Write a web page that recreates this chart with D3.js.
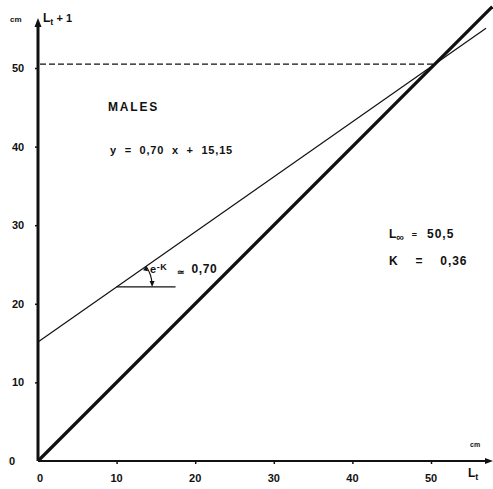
<!DOCTYPE html>
<html>
<head>
<meta charset="utf-8">
<script src="https://cdn.jsdelivr.net/npm/d3@7"></script>
<style>
  body { margin: 0; background: #fff; }
  svg { display: block; }
  text { font-family: "Liberation Sans", Arial, sans-serif; font-weight: bold; fill: #111; }
</style>
</head>
<body>
<svg id="chart" width="493" height="489"></svg>
<script>
// Ford–Walford plot: length at age t+1 against length at age t (males)
const xTicks = [0, 10, 20, 30, 40, 50];
const yTicks = [0, 10, 20, 30, 40, 50];
const slope = 0.70;       // e^-K
const intercept = 15.15;
const lInf = 50.5;        // L∞ = intercept / (1 - slope)
const kValue = 0.36;
const diagonalEnd = 57.8; // extent of the Lt+1 = Lt line
const regressionEnd = 57.0;
const angleRefEnd = 17.5; // horizontal reference for the slope angle

const svg = d3.select("#chart");
const x = d3.scaleLinear().domain([0, 50]).range([38, 431]);
const y = d3.scaleLinear().domain([0, 50]).range([461, 68]);
const ink = "#111";
const comma = v => String(v).replace(".", ",");

// Axes
const xAxis = d3.axisBottom(x).tickValues(xTicks.slice(1)).tickSize(3).tickFormat("");
svg.append("g").attr("transform", `translate(0,${y(0)})`).call(xAxis)
  .call(g => g.select(".domain").remove())
  .selectAll("line").attr("stroke", ink).attr("stroke-width", 1.5);
const yAxis = d3.axisLeft(y).tickValues(yTicks.slice(1)).tickSize(3).tickFormat("");
svg.append("g").attr("transform", `translate(${x(0)},0)`).call(yAxis)
  .call(g => g.select(".domain").remove())
  .selectAll("line").attr("stroke", ink).attr("stroke-width", 1.5);

svg.append("line").attr("x1", x(0)).attr("y1", y(0)).attr("x2", 490).attr("y2", y(0))
  .attr("stroke", ink).attr("stroke-width", 2);
svg.append("path").attr("d", `M493,${y(0)} L485,${y(0) - 3} L485,${y(0) + 3} Z`).attr("fill", ink);
svg.append("line").attr("x1", x(0)).attr("y1", y(0)).attr("x2", x(0)).attr("y2", 24)
  .attr("stroke", ink).attr("stroke-width", 3);
svg.append("path").attr("d", `M${x(0)},18 L${x(0) - 3.5},27 L${x(0) + 3.5},27 Z`).attr("fill", ink);

// Tick labels
svg.selectAll(".xl").data(xTicks).join("text")
  .attr("x", d => x(d) + (d === 0 ? 2 : 0)).attr("y", 482)
  .attr("text-anchor", "middle").attr("font-size", 11).text(d => d);
svg.selectAll(".yl").data(yTicks).join("text")
  .attr("x", d => d === 0 ? 12 : 18).attr("y", d => y(d) + 4)
  .attr("text-anchor", "middle").attr("font-size", 11).text(d => d);

// Axis titles
svg.append("text").attr("x", 10).attr("y", 22).attr("font-size", 8).text("cm");
const lt1 = svg.append("text").attr("x", 43).attr("y", 22).attr("font-size", 12);
lt1.append("tspan").text("L");
lt1.append("tspan").attr("dy", 3).attr("font-size", 9).text("t");
lt1.append("tspan").attr("dy", -3).attr("font-size", 11).text(" + 1");
svg.append("text").attr("x", 470).attr("y", 447).attr("font-size", 7).text("cm");
const lt = svg.append("text").attr("x", 468).attr("y", 477).attr("font-size", 12);
lt.append("tspan").text("L");
lt.append("tspan").attr("dy", 3).attr("font-size", 9).text("t");

// Asymptote level (dashed)
svg.append("line").attr("x1", x(0) + 2).attr("y1", y(lInf)).attr("x2", x(lInf)).attr("y2", y(lInf))
  .attr("stroke", ink).attr("stroke-width", 1.2).attr("stroke-dasharray", "6,3");

// Lt+1 = Lt diagonal
svg.append("line").attr("x1", x(0)).attr("y1", y(0)).attr("x2", x(diagonalEnd)).attr("y2", y(diagonalEnd))
  .attr("stroke", ink).attr("stroke-width", 3.2);

// Regression line
svg.append("line").attr("x1", x(0)).attr("y1", y(intercept))
  .attr("x2", x(regressionEnd)).attr("y2", y(slope * regressionEnd + intercept))
  .attr("stroke", ink).attr("stroke-width", 1.2);

// Slope angle marker
const ax0 = 10;
svg.append("line").attr("x1", x(ax0)).attr("y1", y(slope * ax0 + intercept))
  .attr("x2", x(angleRefEnd)).attr("y2", y(slope * ax0 + intercept))
  .attr("stroke", ink).attr("stroke-width", 1.3);
const cx = x(ax0), cy = y(slope * ax0 + intercept), r = 36;
const ang = Math.atan(slope);
svg.append("path")
  .attr("d", `M${cx + r * Math.cos(ang)},${cy - r * Math.sin(ang)} A${r},${r} 0 0 1 ${cx + r - 0.5},${cy - 3}`)
  .attr("fill", "none").attr("stroke", ink).attr("stroke-width", 1.2);
svg.append("path").attr("d", `M${cx + r - 0.5},${cy} L${cx + r - 3},${cy - 6} L${cx + r + 2},${cy - 6} Z`).attr("fill", ink);
svg.append("path").attr("d", `M${cx + r * Math.cos(ang)},${cy - r * Math.sin(ang)} l-3,4 l5,1 Z`).attr("fill", ink);

const ek = svg.append("text").attr("x", 150).attr("y", 273).attr("font-size", 11)
  .attr("xml:space", "preserve").attr("letter-spacing", 0.6);
ek.append("tspan").text("e");
ek.append("tspan").attr("dy", -3).attr("font-size", 9).text("-K");
ek.append("tspan").attr("dy", 5).attr("font-size", 9).text("   \u2243  ");
ek.append("tspan").attr("dy", -2).attr("font-size", 12).text(comma(slope.toFixed(2)));

// Annotations
svg.append("text").attr("x", 108).attr("y", 111).attr("font-size", 12)
  .attr("letter-spacing", 1.8).text("MALES");
svg.append("text").attr("x", 110).attr("y", 154).attr("font-size", 11)
  .attr("letter-spacing", 0.8).attr("xml:space", "preserve")
  .text(`y  =  ${comma(slope.toFixed(2))}  x  +  ${comma(intercept)}`);
const li = svg.append("text").attr("x", 389).attr("y", 238).attr("font-size", 12)
  .attr("xml:space", "preserve");
li.append("tspan").text("L");
li.append("tspan").attr("dy", 3).attr("font-size", 11).text("\u221E");
li.append("tspan").attr("dy", -3).attr("font-size", 9).text("   =    ");
li.append("tspan").attr("font-size", 12).attr("letter-spacing", 1).text(comma(lInf));
svg.append("text").attr("x", 389).attr("y", 265).attr("font-size", 12)
  .attr("letter-spacing", 0.9).attr("xml:space", "preserve")
  .text(`K    =    ${comma(kValue)}`);
</script>
</body>
</html>
